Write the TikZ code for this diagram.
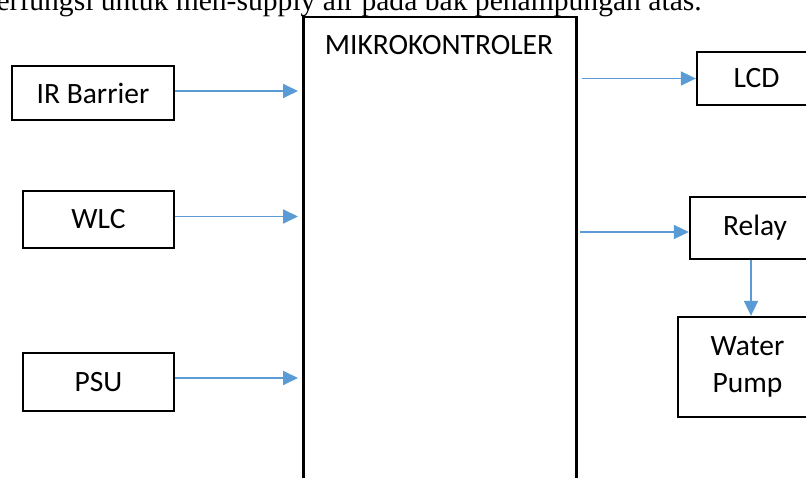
\documentclass[tikz,border=0pt]{standalone}
\usepackage{fontspec}
\setmainfont{Carlito}
\newfontfamily\bodyserif{Liberation Serif}
\usetikzlibrary{arrows.meta}
\definecolor{flowblue}{HTML}{5B9BD5}
\tikzset{
  blockbox/.style={draw=black, line width=2.3pt, inner sep=0pt, align=center,
    font=\fontsize{29.5}{37}\selectfont},
  flow/.style={draw=flowblue, line width=1.8pt,
    -{Triangle[length=15pt,width=14pt]}},
}
\begin{document}
\begin{tikzpicture}[x=1pt, y=-1pt]
  \useasboundingbox (0,0) rectangle (806,478);
  \clip (0,0) rectangle (806,478);

  % running text line above the figure
  \node[anchor=base east, inner sep=0pt, font=\bodyserif\fontsize{29.6}{36}\selectfont]
    (intro) at (702,11) {berfungsi untuk men-supply air pada bak penampungan atas.};

  % controller block (runs off the bottom)
  \node[draw=black, line width=2.5pt, fill=white, minimum width=273pt, minimum height=504pt,
    anchor=north west, inner sep=0pt] (main) at (302,16) {};
  \node[font=\fontsize{29.5}{37}\selectfont] (mctitle) at (439,45) {MIKROKONTROLER};

  % inputs
  \node[blockbox, minimum width=162pt, minimum height=54pt] (ir) at (93,93) {IR Barrier};
  \node[blockbox, minimum width=151pt, minimum height=57pt] (wlc) at (98.5,219.5) {WLC};
  \node[blockbox, minimum width=151pt, minimum height=58pt] (psu) at (98.5,382) {PSU};

  % outputs
  \node[blockbox, minimum width=119pt, minimum height=53pt] (lcd) at (756.5,78.5) {LCD};
  \node[blockbox, minimum width=130pt, minimum height=62pt] (relay) at (755,228) {Relay};
  \node[blockbox, minimum width=139pt, minimum height=100pt] (pump) at (747.5,367) {Water\\Pump};

  % connectors
  \draw[flow, shorten >=4pt] ([yshift=2pt]ir.east) -- ([yshift=2pt]ir.east -| main.west);
  \draw[flow, shorten >=4pt] ([yshift=3pt]wlc.east) -- ([yshift=3pt]wlc.east -| main.west);
  \draw[flow, shorten >=4pt] ([yshift=4pt]psu.east) -- ([yshift=4pt]psu.east -| main.west);
  \draw[flow, shorten <=4pt] (lcd.west -| main.east) -- (lcd.west);
  \draw[flow, shorten <=2pt] ([yshift=-4pt]relay.west -| main.east) -- ([yshift=-4pt]relay.west);
  \draw[flow] ([xshift=-4pt]relay.south) -- ([xshift=-4pt]relay.south |- pump.north);
\end{tikzpicture}
\end{document}
